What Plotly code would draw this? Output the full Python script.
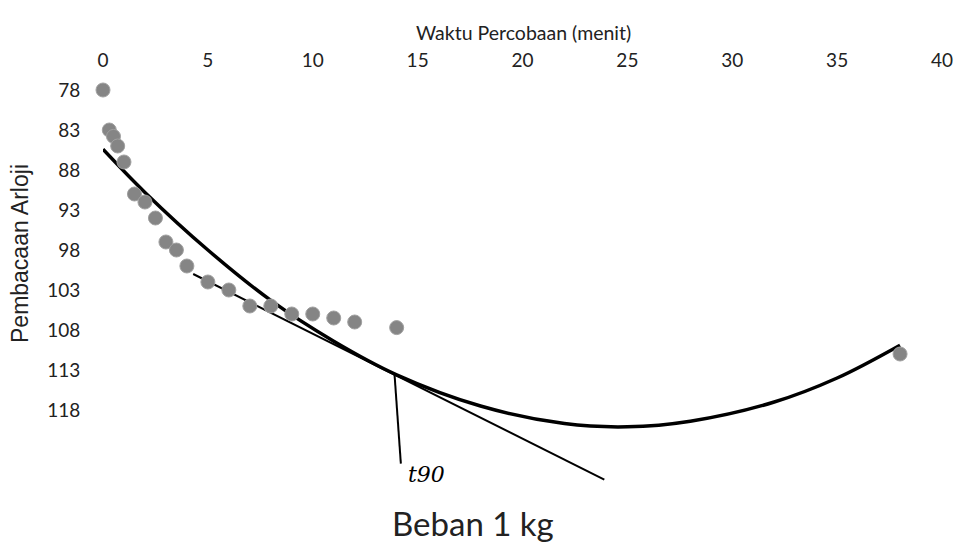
import plotly.graph_objects as go

# Observed data (time in minutes, dial reading)
waktu = [0, 0.3, 0.5, 0.7, 1.0, 1.5, 2.0, 2.5, 3.0, 3.5, 4.0, 5.0, 6.0, 7.0, 8.0, 9.0, 10.0, 11.0, 12.0, 14.0, 38.0]
arloji = [78, 83, 83.8, 85, 87, 91, 92, 94, 97, 98, 100, 102, 103, 105, 105, 106, 106, 106.5, 107, 107.7, 111]

# Curve drawn through the data
kurva_x = [0, 2, 5, 8, 11, 14, 18, 22, 25, 28, 32, 35, 38]
kurva_y = [85.4, 90.8, 98.0, 104.3, 109.4, 113.6, 117.5, 119.7, 120.1, 119.4, 117.0, 114.0, 109.9]

# Tangent line (hand drawn)
tangen_x = [4.3, 23.9]
tangen_y = [101.0, 126.7]

# Vertical marker at t90
vertikal_x = [13.9, 14.2]
vertikal_y = [113.6, 124.7]

x_ticks = [0, 5, 10, 15, 20, 25, 30, 35, 40]
y_ticks = [78, 83, 88, 93, 98, 103, 108, 113, 118]

font_family = "Lato, Open Sans, sans-serif"

# page has 8px body margin: figure drawn at (8, 8)
W, H = 954, 536
L, T, R, B = 95, 82, 20, 38
PW, PH = W - L - R, H - T - B

fig = go.Figure()
fig.add_trace(go.Scatter(x=kurva_x, y=kurva_y, mode="lines",
                         line=dict(color="black", width=3.5, shape="spline"),
                         cliponaxis=False, showlegend=False))
fig.add_trace(go.Scatter(x=tangen_x, y=tangen_y, mode="lines",
                         line=dict(color="black", width=2),
                         cliponaxis=False, showlegend=False))
fig.add_trace(go.Scatter(x=vertikal_x, y=vertikal_y, mode="lines",
                         line=dict(color="black", width=2),
                         cliponaxis=False, showlegend=False))
fig.add_trace(go.Scatter(x=waktu, y=arloji, mode="markers",
                         marker=dict(color="#858585", size=14,
                                     line=dict(color="#a0a0a0", width=1)),
                         cliponaxis=False, showlegend=False))

fig.update_layout(
    width=W, height=H,
    margin=dict(l=L, r=R, t=T, b=B),
    plot_bgcolor="white", paper_bgcolor="white",
    font=dict(family=font_family, color="#222", size=18),
    xaxis=dict(range=[0, 40], side="top", tickvals=x_ticks, automargin=False,
               showgrid=False, zeroline=False, showline=False,
               ticks="outside", ticklen=14, tickcolor="rgba(0,0,0,0)",
               tickfont=dict(size=19)),
    yaxis=dict(range=[130, 78], tickvals=y_ticks, automargin=False,
               showgrid=False, zeroline=False, showline=False,
               ticks="outside", ticklen=18, tickcolor="rgba(0,0,0,0)",
               tickfont=dict(size=19)),
    annotations=[
        dict(text="Waktu Percobaan (menit)", xref="paper", yref="paper",
             x=(515 - L) / PW, y=1 + (T - 25) / PH, xanchor="center", yanchor="middle",
             showarrow=False, font=dict(size=19.5)),
        dict(text="Pembacaan Arloji", xref="paper", yref="paper",
             x=(12 - L) / PW, y=(T + PH - 246) / PH, xanchor="center", yanchor="middle",
             textangle=-90, showarrow=False,
             font=dict(size=23, family="Liberation Sans, Arial, sans-serif")),
        dict(text="<i>t90</i>", x=15.4, y=126.0, xref="x", yref="y",
             showarrow=False, font=dict(size=22, family="DejaVu Serif", color="black")),
        dict(text="Beban 1 kg", xref="paper", yref="paper",
             x=(465 - L) / PW, y=-(515 - (T + PH)) / PH, xanchor="center", yanchor="middle",
             showarrow=False, font=dict(size=33)),
    ],
)

fig.write_html("out.html")
